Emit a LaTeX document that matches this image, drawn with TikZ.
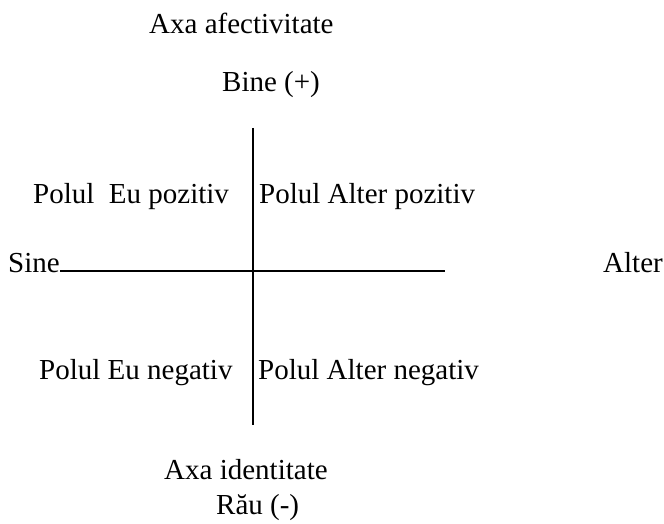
\documentclass[tikz,border=0pt]{standalone}
\usepackage{fontspec}
\setmainfont{Liberation Serif}
\tikzset{
  lbl/.style={inner sep=0pt, anchor=base west, font=\fontsize{29}{34}\selectfont},
  axisline/.style={line width=1.6pt, line cap=butt}
}
\begin{document}
\begin{tikzpicture}[x=1pt,y=-1pt]
\useasboundingbox (0,0) rectangle (664,524);
\node[lbl] (afect) at (149,34) {Axa afectivitate};
\node[lbl] (bine) at (222,92) {Bine (+)};
\node[lbl] (eupoz) at (33,203) {Polul\ \ Eu pozitiv};
\node[lbl] (alpoz) at (259,203) {Polul Alter pozitiv};
\node[lbl] (sine) at (8,272) {Sine};
\node[lbl] (alter) at (603,272) {Alter};
\node[lbl] (euneg) at (39,379) {Polul Eu negativ};
\node[lbl] (alneg) at (258,379) {Polul Alter negativ};
\node[lbl] (axid) at (164,479) {Axa identitate};
\node[lbl] (rau) at (216,514) {Rău (-)};
\coordinate (vtop) at (253,128);
\coordinate (vbot) at (253,425);
\coordinate (hleft) at (sine.base east);
\coordinate (hright) at (445,271);
\draw[axisline] (vtop) -- (vbot);
\draw[axisline] ([yshift=1pt]hleft) -- (hright);
\end{tikzpicture}
\end{document}
